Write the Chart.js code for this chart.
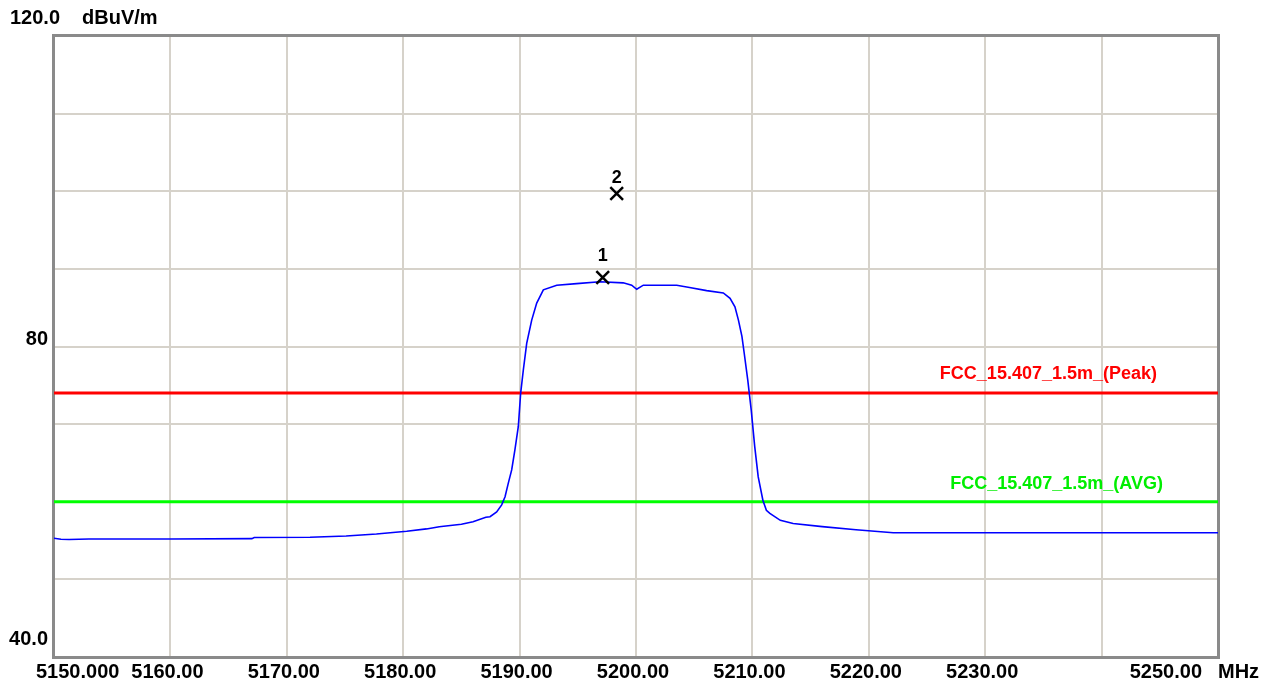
<!DOCTYPE html>
<html>
<head>
<meta charset="utf-8">
<script src="https://cdn.jsdelivr.net/npm/chart.js@4/dist/chart.umd.min.js"></script>
<style>
  html, body { margin: 0; padding: 0; background: #ffffff; }
  #wrap { position: relative; width: 1270px; height: 687px; }
</style>
</head>
<body>
<div id="wrap"><canvas id="c" width="1270" height="687"></canvas></div>
<script>
// ---- data ----
const freqMHz = [5150.0, 5150.6, 5151.3, 5153.0, 5160.0, 5167.0, 5167.2, 5172.0, 5175.1, 5177.7,
  5180.3, 5182.0, 5183.1, 5185.0, 5186.0, 5187.1, 5187.46, 5188.03, 5188.46, 5188.75,
  5189.03, 5189.32, 5189.6, 5189.89, 5190.09, 5190.32, 5190.61, 5191.04, 5191.47, 5192.04,
  5193.19, 5194.9, 5196.9, 5198.9, 5199.63, 5200.06, 5200.63, 5203.5, 5204.6, 5206.07,
  5207.5, 5208.08, 5208.5, 5208.8, 5209.1, 5209.3, 5209.6, 5209.9, 5210.2, 5210.5,
  5210.9, 5211.2, 5211.5, 5212.4, 5213.5, 5216.0, 5218.9, 5222.1, 5230.0, 5240.0, 5250.0];
const levelDb = [55.29, 55.16, 55.14, 55.2, 55.2, 55.25, 55.4, 55.42, 55.59, 55.85,
  56.2, 56.5, 56.79, 57.1, 57.43, 58.0, 58.07, 58.7, 59.6, 60.65,
  62.4, 64.1, 66.7, 69.7, 73.97, 76.97, 80.4, 83.4, 85.6, 87.3,
  87.9, 88.1, 88.35, 88.2, 87.9, 87.37, 87.9, 87.9, 87.6, 87.2,
  86.9, 86.2, 85.1, 83.4, 81.3, 79.1, 75.7, 71.8, 67.1, 63.2,
  60.2, 58.9, 58.5, 57.6, 57.2, 56.8, 56.4, 56.0, 56.0, 56.0, 56.0];

const markerFreq = [5197.14, 5198.34];
const markerLevel = [88.89, 99.71];
const markerNames = ['1', '2'];

const limitPeakDb = 74;
const limitAvgDb = 60;
const limitPeakName = 'FCC_15.407_1.5m_(Peak)';
const limitAvgName = 'FCC_15.407_1.5m_(AVG)';

const xMin = 5150, xMax = 5250, xStep = 10;
const yMin = 40, yMax = 120, yStep = 10;
const xTickValues = [5150, 5160, 5170, 5180, 5190, 5200, 5210, 5220, 5230, 5240, 5250];
const xTickLabels = ['5150.000', '5160.00', '5170.00', '5180.00', '5190.00', '5200.00', '5210.00', '5220.00', '5230.00', '', '5250.00'];
const xUnit = 'MHz';
const yTickValues = [120, 80, 40];
const yTickLabels = ['120.0', '80', '40.0'];
const yUnit = 'dBuV/m';

// ---- styles ----
const FONT = '"Liberation Sans", Arial, sans-serif';
const gridColor = '#d6d2ca';
const frameColor = '#8a8a8a';
const markerLabelDy = [-21, -15];

const curve = freqMHz.map((f, i) => ({ x: f, y: levelDb[i] }));
const markers = markerFreq.map((f, i) => ({ x: f, y: markerLevel[i] }));

const decorPlugin = {
  id: 'decor',
  beforeDatasetsDraw(chart) {
    const { ctx, chartArea: a } = chart;
    ctx.save();
    ctx.strokeStyle = frameColor;
    ctx.lineWidth = 3;
    ctx.strokeRect(a.left - 0.5, a.top - 0.5, a.right - a.left + 1, a.bottom - a.top + 1);
    ctx.restore();
  },
  afterDraw(chart) {
    const { ctx, chartArea: a, scales } = chart;
    const xs = scales.x, ys = scales.y;
    ctx.save();
    ctx.fillStyle = '#000000';
    ctx.font = 'bold 20px ' + FONT;
    ctx.textBaseline = 'middle';
    // x tick labels
    const n = xTickValues.length;
    xTickValues.forEach((v, i) => {
      const t = xTickLabels[i];
      if (!t) return;
      const px = xs.getPixelForValue(v);
      if (i === 0) { ctx.textAlign = 'left'; ctx.fillText(t, px - 18, a.bottom + 15); }
      else if (i === n - 1) { ctx.textAlign = 'right'; ctx.fillText(t, px - 16, a.bottom + 15); }
      else { ctx.textAlign = 'center'; ctx.fillText(t, px - 3, a.bottom + 15); }
    });
    ctx.textAlign = 'left';
    ctx.fillText(xUnit, a.right, a.bottom + 15);
    // y tick labels
    yTickValues.forEach((v, i) => {
      const py = ys.getPixelForValue(v);
      const t = yTickLabels[i];
      if (i === 0) {
        ctx.textAlign = 'left';
        ctx.fillText(t, 10, py - 18);
        ctx.fillText(yUnit, 82, py - 18);
      } else if (i === yTickValues.length - 1) {
        ctx.textAlign = 'right';
        ctx.fillText(t, 48, py - 18);
      } else {
        ctx.textAlign = 'right';
        ctx.fillText(t, 48, py - 7);
      }
    });
    // limit labels
    ctx.font = 'bold 18px ' + FONT;
    ctx.textAlign = 'right';
    ctx.textBaseline = 'alphabetic';
    ctx.fillStyle = '#ff0000';
    ctx.fillText(limitPeakName, a.right - 61, ys.getPixelForValue(limitPeakDb) - 14.5);
    ctx.fillStyle = '#00ee00';
    ctx.fillText(limitAvgName, a.right - 55, ys.getPixelForValue(limitAvgDb) - 13);
    // marker labels
    ctx.fillStyle = '#000000';
    ctx.textAlign = 'center';
    ctx.textBaseline = 'middle';
    markers.forEach((m, i) => {
      const px = xs.getPixelForValue(m.x), py = ys.getPixelForValue(m.y);
      ctx.fillText(markerNames[i], px, py + markerLabelDy[i]);
    });
    ctx.restore();
  }
};

new Chart(document.getElementById('c'), {
  type: 'line',
  data: {
    datasets: [
      { label: 'markers', type: 'scatter', data: markers, order: 0, showLine: false,
        pointStyle: 'crossRot', pointRadius: 9, pointBorderWidth: 2.5,
        borderColor: '#000000', backgroundColor: '#000000' },
      { label: 'trace', data: curve, order: 1, borderColor: '#0000ff', borderWidth: 1.6,
        pointRadius: 0, tension: 0, fill: false },
      { label: 'peak limit', data: [{ x: xMin, y: limitPeakDb }, { x: xMax, y: limitPeakDb }], order: 2,
        borderColor: '#ff0000', borderWidth: 3, pointRadius: 0 },
      { label: 'avg limit', data: [{ x: xMin, y: limitAvgDb }, { x: xMax, y: limitAvgDb }], order: 3,
        borderColor: '#00ff00', borderWidth: 3, pointRadius: 0 }
    ]
  },
  options: {
    responsive: false,
    animation: false,
    devicePixelRatio: 1,
    layout: { padding: { left: 54, top: 36, right: 52, bottom: 30 } },
    plugins: { legend: { display: false }, tooltip: { enabled: false } },
    scales: {
      x: {
        type: 'linear', min: xMin, max: xMax,
        afterFit: s => { s.height = 0; },
        ticks: { display: false, stepSize: xStep },
        grid: { color: gridColor, lineWidth: 2, drawTicks: false },
        border: { display: false }
      },
      y: {
        type: 'linear', min: yMin, max: yMax,
        afterFit: s => { s.width = 0; },
        ticks: { display: false, stepSize: yStep },
        grid: { color: gridColor, lineWidth: 2, drawTicks: false },
        border: { display: false }
      }
    }
  },
  plugins: [decorPlugin]
});
</script>
</body>
</html>
